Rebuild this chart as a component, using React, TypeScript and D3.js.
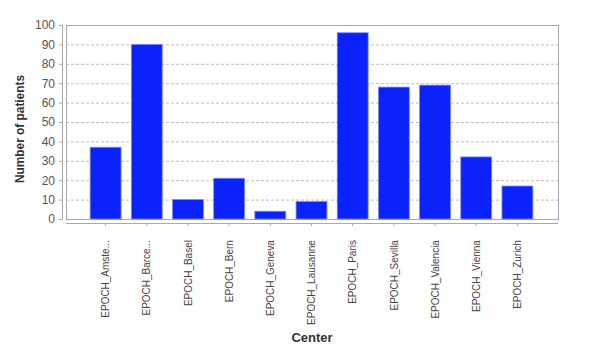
import React, { useEffect, useRef } from 'react';
import * as d3 from 'd3';

const centers = [
  'EPOCH_Amste...', 'EPOCH_Barce...', 'EPOCH_Basel', 'EPOCH_Bern', 'EPOCH_Geneva',
  'EPOCH_Lausanne', 'EPOCH_Paris', 'EPOCH_Sevilla', 'EPOCH_Valencia', 'EPOCH_Vienna', 'EPOCH_Zurich',
];
const patients = [37, 90, 10, 21, 4, 9, 96, 68, 69, 32, 17];
const yTicks = [0, 10, 20, 30, 40, 50, 60, 70, 80, 90, 100];

const App = () => {
  const svgRef = useRef<SVGSVGElement>(null);

  useEffect(() => {
    const svg = d3.select(svgRef.current);
    svg.selectAll('*').remove();

    const plot = { left: 66, right: 558, top: 25, bottom: 219 };
    const font = '"Liberation Sans", Arial, sans-serif';

    const x = d3.scaleBand<string>()
      .domain(centers)
      .range([85, 538])
      .paddingInner(0.25)
      .paddingOuter(0.125);

    const y = d3.scaleLinear()
      .domain([0, 100])
      .range([plot.bottom, plot.top]);

    // grid lines
    svg.append('g')
      .selectAll('line')
      .data(yTicks.slice(1, -1))
      .join('line')
      .attr('x1', plot.left)
      .attr('x2', plot.right)
      .attr('y1', d => y(d) + 0.5)
      .attr('y2', d => y(d) + 0.5)
      .attr('stroke', '#bdbdbd')
      .attr('stroke-dasharray', '3,2');

    // plot border
    svg.append('rect')
      .attr('x', plot.left + 0.5)
      .attr('y', plot.top + 0.5)
      .attr('width', plot.right - plot.left)
      .attr('height', plot.bottom - plot.top)
      .attr('fill', 'none')
      .attr('stroke', '#a8a8a8');

    // bars
    svg.append('g')
      .selectAll('rect')
      .data(patients)
      .join('rect')
      .attr('x', (d, i) => x(centers[i])!)
      .attr('y', d => y(d))
      .attr('width', x.bandwidth())
      .attr('height', d => y(0) - y(d))
      .attr('fill', '#0b22fb')
      .attr('stroke', '#7b88ff')
      .attr('stroke-width', 0.8);

    // y axis
    const yAxis = svg.append('g')
      .attr('transform', 'translate(62,0)')
      .call(d3.axisLeft(y).tickValues(yTicks).tickSize(3).tickPadding(4));
    yAxis.select('.domain').attr('stroke', '#aaa');
    yAxis.selectAll('.tick line').attr('stroke', '#aaa');
    yAxis.selectAll('.tick text')
      .attr('fill', '#555')
      .attr('font-size', 12)
      .attr('font-family', font);

    // x axis
    const xAxis = svg.append('g')
      .attr('transform', 'translate(0,223)')
      .call(d3.axisBottom(x).tickSizeOuter(0).tickSize(3));
    xAxis.select('.domain').attr('stroke', '#aaa').attr('d', `M${plot.left},0.5H${plot.right}`);
    xAxis.selectAll('.tick line').attr('stroke', '#aaa');
    xAxis.selectAll('.tick text')
      .attr('fill', '#444')
      .attr('font-size', 10.5)
      .attr('font-family', font)
      .attr('text-anchor', 'end')
      .attr('transform', 'rotate(-90) scale(0.95,1)')
      .attr('x', -18)
      .attr('y', 0)
      .attr('dy', '0.35em');

    // axis titles
    svg.append('text')
      .attr('transform', 'translate(24,129) rotate(-90)')
      .attr('text-anchor', 'middle')
      .attr('font-family', font)
      .attr('font-weight', 'bold')
      .attr('font-size', 13)
      .attr('textLength', 108)
      .attr('lengthAdjust', 'spacingAndGlyphs')
      .attr('fill', '#333')
      .text('Number of patients');

    svg.append('text')
      .attr('x', 312)
      .attr('y', 342)
      .attr('text-anchor', 'middle')
      .attr('font-family', font)
      .attr('font-weight', 'bold')
      .attr('font-size', 13)
      .attr('fill', '#333')
      .text('Center');
  }, []);

  return (
    <svg ref={svgRef} width={600} height={353}
      style={{ position: 'absolute', left: 0, top: 0, background: '#fff' }} />
  );
};

export default App;
